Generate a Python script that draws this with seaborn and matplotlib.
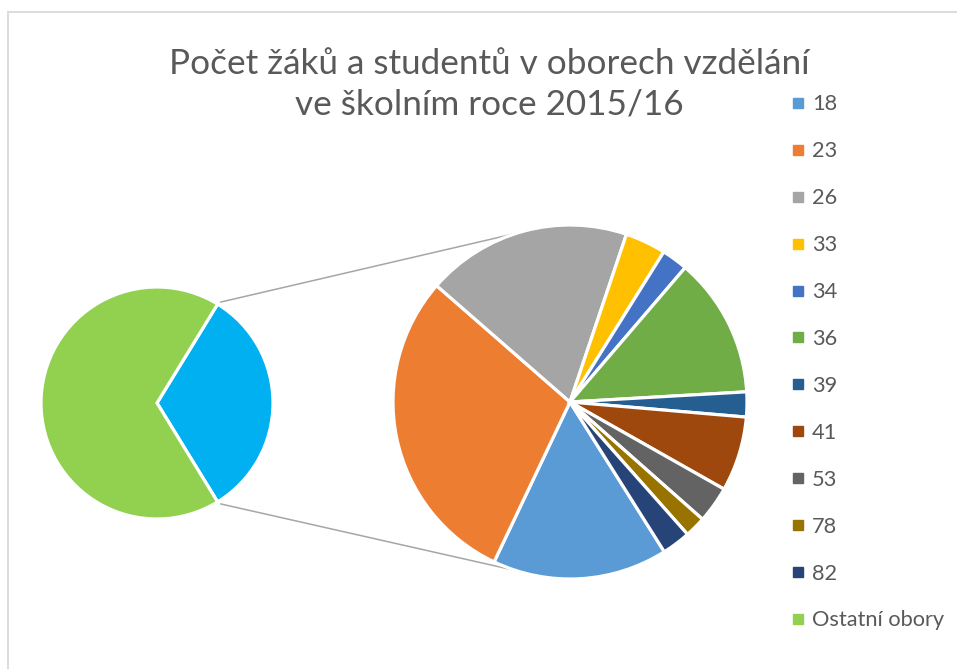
import numpy as np
import matplotlib
matplotlib.use("Agg")
import matplotlib.pyplot as plt
from matplotlib.lines import Line2D
from matplotlib.patches import Rectangle
import seaborn as sns

# data: second pie (breakdown of the aggregated slice)
obory = ["18", "23", "26", "33", "34", "36", "39", "41", "53", "78", "82"]
pocty = [28800, 52850, 33750, 6700, 4300, 23050, 4100, 12300, 6000, 3450, 4700]
ostatni_label = "Ostatní obory"
ostatni_pocet = 373850

barvy = ["#5B9BD5", "#ED7D31", "#A5A5A5", "#FFC000", "#4472C4", "#70AD47",
         "#255E91", "#9E480E", "#636363", "#997300", "#264478"]
barva_ostatni = "#92D050"
barva_souhrn = "#00B0F0"

title = "Počet žáků a studentů v oborech vzdělání\nve školním roce 2015/16"

sns.set_theme(style="white")
plt.rcParams["font.family"] = ["Lato", "DejaVu Sans"]

W, H = 957, 669
fig = plt.figure(figsize=(W / 100, H / 100), dpi=100)
ax = fig.add_axes([0, 0, 1, 1])

# layout in pixels (y measured from top of image)
left_c, left_r = (157, 403), 116
right_c, right_r = (570, 402), 177
lc = (left_c[0], H - left_c[1])
rc = (right_c[0], H - right_c[1])

wedge_kw = dict(edgecolor="white", linewidth=2.3)

# first pie: aggregated slice centred on the right side
souhrn = sum(pocty)
souhrn_deg = 360 * souhrn / (souhrn + ostatni_pocet)
ax.pie([souhrn, ostatni_pocet], colors=[barva_souhrn, barva_ostatni],
       startangle=-souhrn_deg / 2, center=lc, radius=left_r,
       wedgeprops=wedge_kw, frame=True)

# second pie
ax.pie(pocty, colors=barvy, startangle=302.2, counterclock=False,
       center=rc, radius=right_r, wedgeprops=wedge_kw, frame=True)

# connector lines
half = np.deg2rad(souhrn_deg / 2)
for sgn, ang in [(1, 107.5), (-1, 252.5)]:
    x0 = lc[0] + left_r * np.cos(half) + 3
    y0 = lc[1] + sgn * left_r * np.sin(half) + sgn * 2
    x1 = rc[0] + right_r * np.cos(np.deg2rad(ang))
    y1 = rc[1] + right_r * np.sin(np.deg2rad(ang))
    ax.plot([x0, x1], [y0, y1], color="#A6A6A6", lw=1.1, zorder=0)

# chart border
ax.add_patch(Rectangle((8, -50), 1200, H - 12 + 50, fill=False,
                       edgecolor="#D9D9D9", lw=1.3))

ax.set_xlim(0, W)
ax.set_ylim(0, H)
ax.set_aspect("equal")
ax.axis("off")

fig.text(489 / W, 1 - 84 / H, title, ha="center", va="center",
         fontsize=25.3, color="#595959", linespacing=1.34)

handles = [Line2D([], [], marker="s", linestyle="none", markersize=6.8,
                  markerfacecolor=c, markeredgecolor=c)
           for c in barvy + [barva_ostatni]]
labels = obory + [ostatni_label]
fig.legend(handles, labels, loc="upper left",
           bbox_to_anchor=(791 / W, 1 - 94.5 / H), frameon=False,
           fontsize=15.7, labelcolor="#595959", handlelength=0.6,
           handletextpad=0.36, labelspacing=1.234, borderpad=0, borderaxespad=0)

fig.savefig("out.png", dpi=100, facecolor="white")
